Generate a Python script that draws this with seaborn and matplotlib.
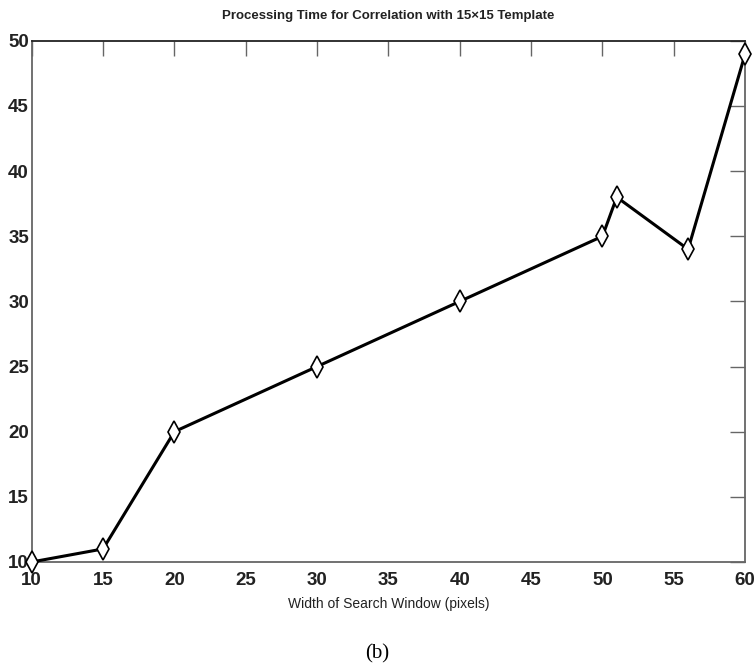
import numpy as np
import pandas as pd
import seaborn as sns
import matplotlib.pyplot as plt

# Values
window_width = [10, 15, 20, 30, 40, 50, 51, 56, 60]
proc_time = [10, 11, 20, 25, 30, 35, 38, 34, 49]
x_ticks = [10, 15, 20, 25, 30, 35, 40, 45, 50, 55, 60]
y_ticks = [10, 15, 20, 25, 30, 35, 40, 45, 50]

df = pd.DataFrame({'width': window_width, 'time': proc_time})

sns.set_style('white')
plt.rcParams['font.family'] = ['Liberation Sans', 'DejaVu Sans']

fig = plt.figure(figsize=(7.55, 6.69), dpi=100)
ax = fig.add_axes([0.042, 0.160, 0.945, 0.779])

sns.lineplot(data=df, x='width', y='time', ax=ax, color='black', linewidth=2.2,
             marker='d', markersize=11, markerfacecolor='white',
             markeredgecolor='black', markeredgewidth=1.2, sort=False,
             clip_on=False, zorder=3)

ax.set_xlim(10, 60)
ax.set_ylim(10, 50)
ax.set_xticks(x_ticks)
ax.set_yticks(y_ticks)
ax.tick_params(direction='in', length=11, width=1, colors='#666666',
               top=True, right=True, labelcolor='#222222', labelsize=13.5)
ax.tick_params(axis='x', pad=7)
ax.tick_params(axis='y', pad=2)
for lab in ax.get_xticklabels() + ax.get_yticklabels():
    lab.set_fontweight('bold')
for name, sp in ax.spines.items():
    sp.set_visible(True)
    sp.set_color('#666666' if name in ('left', 'bottom', 'right') else '#222222')
    sp.set_linewidth(1.3)

ax.set_title('Processing Time for Correlation with 15\u00d715 Template',
             fontsize=9.5, fontweight='bold', color='#222222', pad=16)
ax.set_xlabel('Width of Search Window (pixels)', fontsize=10,
              color='#222222', labelpad=6)
ax.set_ylabel('')

fig.text(0.5, 0.008, '(b)', ha='center', va='bottom', fontsize=15,
         family='Liberation Serif', color='black')

fig.savefig('out.png', dpi=100)
